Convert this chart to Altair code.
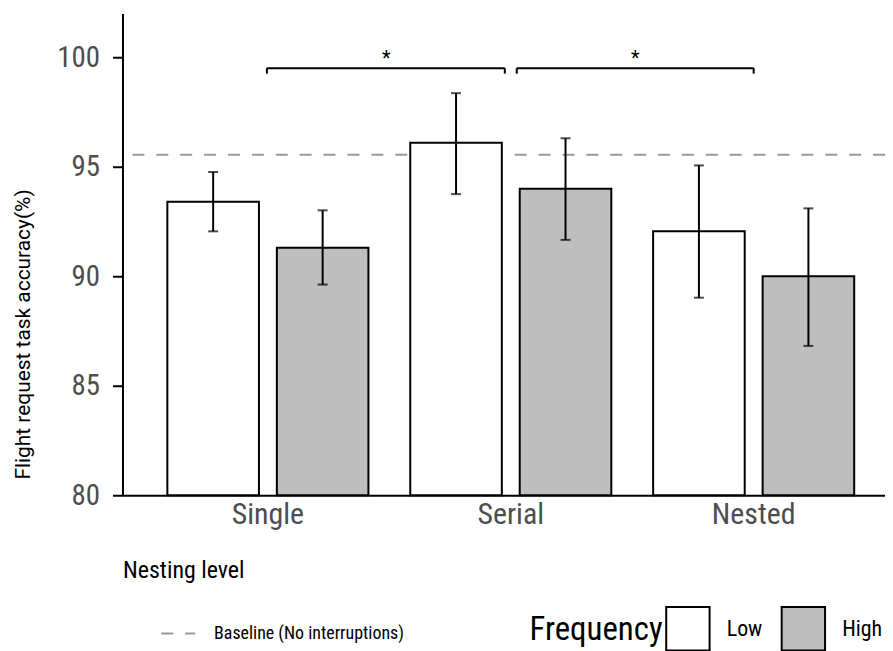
import altair as alt
import pandas as pd

# ---- data ----
levels = ["Single", "Serial", "Nested"]
frequencies = ["Low", "High"]
bar_level = ["Single", "Single", "Serial", "Serial", "Nested", "Nested"]
bar_freq = ["Low", "High", "Low", "High", "Low", "High"]
bar_mean = [93.4, 91.3, 96.1, 94.0, 92.05, 90.0]
bar_lower = [92.05, 89.62, 93.75, 91.66, 89.02, 86.82]
bar_upper = [94.76, 93.01, 98.36, 96.3, 95.06, 93.1]

baseline_value = [95.55]
baseline_label = ["Baseline (No interruptions)"]

bracket_start = ["Single", "Serial"]
bracket_end = ["Serial", "Nested"]
bracket_y = [99.5, 99.5]
bracket_tip = [99.25, 99.25]
bracket_text = ["*", "*"]

y_ticks = [80, 85, 90, 95, 100]

# ---- tables ----
bars = pd.DataFrame({"level": bar_level, "freq": bar_freq, "mean": bar_mean,
                     "lower": bar_lower, "upper": bar_upper})
base = pd.DataFrame({"y": baseline_value, "label": baseline_label})

COND = "Roboto Condensed, Liberation Sans Narrow, DejaVu Sans Condensed, Roboto, sans-serif"
REG = "Roboto, sans-serif"

W, H = 766, 484

xscale = alt.Scale(domain=levels, paddingInner=0, paddingOuter=0.0697, align=0.708)
yscale = alt.Scale(domain=[80, 102], zero=False, nice=False)
offscale = alt.Scale(domain=frequencies, paddingInner=0.1636, paddingOuter=0.191)

x_axis = alt.Axis(ticks=False, domainColor="black", domainWidth=2, labelFont=COND,
                  labelFontSize=30, labelColor="#4D4D4D", labelPadding=4, labelAngle=0,
                  title="Nesting level", titleFont=COND, titleFontSize=24,
                  titleFontWeight="normal", titleColor="black", titleX=0, titleY=76,
                  titleAlign="left", titleBaseline="middle", grid=False)
y_axis = alt.Axis(values=y_ticks, tickSize=10, tickWidth=2, tickColor="black",
                  domainColor="black", domainWidth=2, labelFont=COND, labelFontSize=29,
                  labelColor="#4D4D4D", labelPadding=13, grid=False,
                  title="Flight request task accuracy(%)", titleFont=REG, titleFontSize=21,
                  titleFontWeight="normal", titleColor="black", titleX=-110, titleY=322,
                  titleBaseline="top", titleAlign="center")

X = alt.X("level:N", sort=levels, scale=xscale, axis=x_axis)
XO = alt.XOffset("freq:N", sort=frequencies, scale=offscale)

bar_layer = alt.Chart(bars).mark_bar(stroke="black", strokeWidth=2).encode(
    x=X,
    xOffset=XO,
    y=alt.Y("mean:Q", scale=yscale, axis=y_axis),
    y2=alt.datum(80),
    fill=alt.Fill("freq:N", scale=alt.Scale(domain=frequencies, range=["white", "#BEBEBE"]),
                  legend=alt.Legend(title="Frequency", orient="none", legendX=409, legendY=595,
                                    direction="horizontal", titleOrient="left",
                                    titleFont=COND, titleFontSize=33, titleFontWeight="normal",
                                    titleColor="black", titlePadding=2, titleBaseline="middle",
                                    symbolType="square", symbolSize=1900,
                                    symbolStrokeColor="black", symbolStrokeWidth=2,
                                    labelFont=COND, labelFontSize=22, labelColor="black",
                                    labelOffset=16, columnPadding=15)),
)

err_rule = alt.Chart(bars).mark_rule(color="black", strokeWidth=2).encode(
    x=X, xOffset=XO, y=alt.Y("lower:Q", scale=yscale), y2="upper:Q")
cap_lo = alt.Chart(bars).mark_tick(color="black", thickness=2, size=10).encode(
    x=X, xOffset=XO, y=alt.Y("lower:Q", scale=yscale))
cap_hi = alt.Chart(bars).mark_tick(color="black", thickness=2, size=10).encode(
    x=X, xOffset=XO, y=alt.Y("upper:Q", scale=yscale))

base_layer = alt.Chart(base).mark_rule(color="#999999", strokeWidth=2).encode(
    y=alt.Y("y:Q", scale=yscale),
    strokeDash=alt.StrokeDash("label:N", scale=alt.Scale(domain=baseline_label, range=[[12, 12]]),
                              legend=alt.Legend(title=None, orient="none", legendX=38, legendY=605,
                                                symbolType="stroke", symbolSize=1156,
                                                symbolStrokeColor="#999999", symbolStrokeWidth=2,
                                                labelFont=COND, labelFontSize=18, labelLimit=0,
                                                labelColor="black", labelOffset=18)),
)

layers = [base_layer, bar_layer, err_rule, cap_lo, cap_hi]

offsets = [(-1, -6, -3), (6, 0, 3)]
for i in range(len(bracket_start)):
    bdf = pd.DataFrame({"s": [bracket_start[i]], "e": [bracket_end[i]],
                        "y": [bracket_y[i]], "tip": [bracket_tip[i]], "t": [bracket_text[i]]})
    lo, ro, to = offsets[i]
    horiz = alt.Chart(bdf).mark_rule(color="black", strokeWidth=2, xOffset=lo, x2Offset=ro).encode(
        x=alt.X("s:N", scale=xscale), x2="e:N", y=alt.Y("y:Q", scale=yscale))
    ltip = alt.Chart(bdf).mark_rule(color="black", strokeWidth=2, xOffset=lo).encode(
        x=alt.X("s:N", scale=xscale), y=alt.Y("y:Q", scale=yscale), y2="tip:Q")
    rtip = alt.Chart(bdf).mark_rule(color="black", strokeWidth=2, xOffset=ro).encode(
        x=alt.X("e:N", scale=xscale), y=alt.Y("y:Q", scale=yscale), y2="tip:Q")
    star = alt.Chart(bdf).mark_text(font=REG, fontSize=20, color="black", dx=to,
                                    baseline="alphabetic", dy=-3).encode(
        x=alt.X("e:N", scale=xscale, bandPosition=0), y=alt.Y("y:Q", scale=yscale), text="t:N")
    layers += [horiz, ltip, rtip, star]

chart = alt.layer(*layers).properties(
    width=W, height=H,
    autosize=alt.AutoSizeParams(type="none"),
    padding={"left": 115, "top": 4, "right": 0, "bottom": 155},
    background="white",
).configure_view(stroke=None).configure_legend(padding=0)

chart.save("out.html", embed_options={"renderer": "svg", "actions": False})
